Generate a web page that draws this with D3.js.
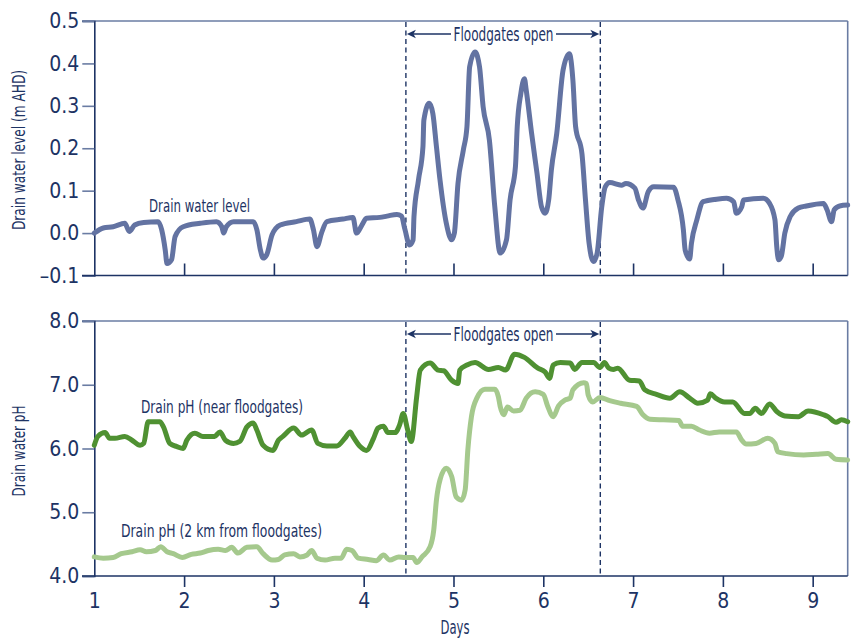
<!DOCTYPE html>
<html>
<head>
<meta charset="utf-8">
<script src="https://cdn.jsdelivr.net/npm/d3@7"></script>
<style>
  html, body { margin: 0; padding: 0; background: #ffffff; }
  svg { display: block; }
  text { font-family: "Liberation Sans Narrow", "DejaVu Sans Condensed", "Roboto Condensed", sans-serif; fill: #1d3364; }
</style>
</head>
<body>
<svg id="chart" width="854" height="640"></svg>
<script>
// ---------------- Data ----------------
const waterDays = [1.00,1.10,1.21,1.34,1.39,1.45,1.55,1.71,1.75,1.79,1.81,1.86,1.90,1.99,2.18,2.36,2.42,2.44,2.47,2.55,2.77,2.81,2.85,2.88,2.92,2.98,3.07,3.25,3.40,3.44,3.48,3.53,3.59,3.77,3.88,3.92,3.98,4.03,4.18,4.26,4.37,4.42,4.46,4.51,4.55,4.56,4.61,4.66,4.67,4.73,4.77,4.81,4.85,4.92,4.98,5.01,5.05,5.11,5.15,5.18,5.24,5.29,5.33,5.40,5.46,5.52,5.59,5.63,5.69,5.71,5.75,5.79,5.81,5.87,5.93,5.98,6.02,6.06,6.09,6.15,6.22,6.29,6.33,6.36,6.43,6.47,6.51,6.56,6.60,6.65,6.69,6.74,6.87,6.92,7.02,7.06,7.11,7.17,7.23,7.45,7.50,7.56,7.58,7.63,7.65,7.71,7.78,7.93,8.04,8.12,8.15,8.21,8.23,8.45,8.52,8.58,8.60,8.62,8.65,8.69,8.75,8.84,8.93,9.12,9.16,9.21,9.24,9.30,9.39];
const waterLevel = [0.000,0.012,0.015,0.023,0.004,0.019,0.025,0.027,0.008,-0.040,-0.072,-0.063,-0.008,0.015,0.023,0.027,0.015,0.000,0.015,0.027,0.027,0.008,-0.040,-0.059,-0.051,-0.004,0.019,0.027,0.033,0.008,-0.032,0.000,0.027,0.033,0.037,0.000,0.019,0.035,0.037,0.040,0.044,0.040,0.008,-0.028,-0.016,0.039,0.125,0.204,0.266,0.306,0.282,0.204,0.125,0.023,-0.016,0.000,0.117,0.196,0.251,0.392,0.427,0.392,0.298,0.219,0.062,-0.047,-0.016,0.078,0.157,0.251,0.329,0.364,0.337,0.235,0.141,0.062,0.047,0.078,0.149,0.235,0.384,0.423,0.360,0.251,0.188,0.078,-0.024,-0.067,-0.047,0.060,0.109,0.119,0.113,0.117,0.106,0.078,0.059,0.098,0.109,0.108,0.078,0.008,-0.040,-0.061,-0.024,0.031,0.074,0.080,0.082,0.074,0.047,0.062,0.078,0.082,0.070,0.031,-0.032,-0.063,-0.055,0.000,0.039,0.059,0.064,0.070,0.055,0.027,0.055,0.064,0.066];

const phNearDays = [1.00,1.04,1.12,1.17,1.23,1.34,1.42,1.51,1.55,1.60,1.73,1.77,1.84,1.92,1.99,2.03,2.12,2.21,2.34,2.40,2.46,2.55,2.62,2.70,2.77,2.81,2.88,2.99,3.05,3.10,3.22,3.31,3.42,3.49,3.59,3.70,3.79,3.85,3.88,3.96,4.03,4.11,4.16,4.22,4.27,4.35,4.40,4.44,4.49,4.53,4.59,4.63,4.74,4.83,4.89,4.98,5.05,5.07,5.15,5.24,5.39,5.50,5.58,5.68,5.79,5.94,6.02,6.07,6.11,6.19,6.30,6.35,6.43,6.56,6.63,6.68,6.73,6.78,6.83,6.96,7.07,7.13,7.26,7.41,7.52,7.63,7.72,7.83,7.86,7.92,8.02,8.11,8.24,8.30,8.36,8.43,8.52,8.60,8.69,8.84,8.95,9.12,9.17,9.26,9.32,9.39];
const phNear = [6.05,6.19,6.25,6.16,6.16,6.19,6.13,6.05,6.08,6.42,6.42,6.34,6.08,6.03,6.00,6.13,6.24,6.19,6.19,6.26,6.13,6.08,6.11,6.34,6.40,6.29,6.05,5.97,6.13,6.19,6.32,6.21,6.29,6.08,6.04,6.04,6.16,6.26,6.19,6.03,5.97,6.16,6.32,6.35,6.25,6.25,6.37,6.55,6.29,6.11,6.81,7.23,7.34,7.23,7.22,7.07,7.02,7.23,7.31,7.35,7.24,7.27,7.23,7.48,7.43,7.26,7.20,7.10,7.31,7.35,7.34,7.24,7.35,7.35,7.27,7.35,7.26,7.24,7.26,7.07,7.06,6.92,6.85,6.79,6.89,6.79,6.71,6.76,6.86,6.79,6.73,6.73,6.55,6.55,6.63,6.55,6.70,6.58,6.51,6.50,6.59,6.53,6.50,6.41,6.45,6.42];

const phFarDays = [1.00,1.10,1.21,1.30,1.42,1.51,1.58,1.68,1.74,1.81,1.88,1.98,2.08,2.18,2.27,2.38,2.46,2.53,2.60,2.70,2.81,2.88,2.98,3.05,3.12,3.22,3.29,3.37,3.42,3.48,3.57,3.68,3.75,3.81,3.87,3.94,4.05,4.14,4.22,4.29,4.39,4.46,4.55,4.59,4.65,4.74,4.78,4.81,4.85,4.92,4.98,5.03,5.09,5.13,5.16,5.20,5.26,5.35,5.46,5.50,5.52,5.56,5.60,5.67,5.74,5.81,5.91,6.00,6.05,6.11,6.17,6.24,6.30,6.33,6.45,6.48,6.50,6.55,6.63,6.74,6.86,7.04,7.11,7.19,7.34,7.51,7.55,7.65,7.74,7.85,7.96,8.15,8.21,8.26,8.37,8.50,8.58,8.61,8.71,8.90,9.04,9.17,9.26,9.39];
const phFar = [4.30,4.28,4.29,4.35,4.38,4.41,4.38,4.40,4.46,4.38,4.35,4.29,4.34,4.36,4.40,4.42,4.40,4.45,4.36,4.45,4.46,4.35,4.25,4.26,4.33,4.35,4.30,4.33,4.40,4.28,4.25,4.28,4.28,4.42,4.40,4.28,4.26,4.24,4.33,4.25,4.30,4.29,4.29,4.21,4.30,4.46,4.72,5.19,5.51,5.69,5.56,5.24,5.19,5.35,5.98,6.50,6.79,6.93,6.93,6.81,6.66,6.53,6.65,6.59,6.60,6.79,6.89,6.85,6.66,6.50,6.67,6.76,6.79,6.92,7.03,7.02,6.84,6.73,6.80,6.75,6.71,6.66,6.53,6.46,6.45,6.44,6.35,6.35,6.29,6.24,6.26,6.26,6.13,6.07,6.08,6.16,6.08,5.95,5.92,5.90,5.91,5.92,5.83,5.82];

const dayTicks = [1, 2, 3, 4, 5, 6, 7, 8, 9];
const levelTicks = [-0.1, 0.0, 0.1, 0.2, 0.3, 0.4, 0.5];
const phTicks = [4, 5, 6, 7, 8];
const gateOpen = 4.47, gateClose = 6.635;

// ---------------- Layout ----------------
const svg = d3.select("#chart");
const navy = "#1d3364", frame = "#6a7ca3";
const x = d3.scaleLinear().domain([1, 9.39]).range([94.3, 847.7]);
const yTop = d3.scaleLinear().domain([-0.1, 0.5]).range([275.5, 21]);
const yBot = d3.scaleLinear().domain([4, 8]).range([576, 321]);

const defs = svg.append("defs");
defs.append("marker").attr("id", "arrowHead").attr("viewBox", "0 0 10 10")
  .attr("refX", 5).attr("refY", 5).attr("markerWidth", 10).attr("markerHeight", 10)
  .attr("markerUnits", "userSpaceOnUse").attr("orient", "auto-start-reverse")
  .append("path").attr("d", "M9,5 L0,0.8 L2.5,5 L0,9.2 Z").attr("fill", navy);

function fmtLevel(d) { const s = d3.format(".1f")(Math.abs(d)); return d < 0 ? "\u2013" + s : s; }

function label(txt, xPos, yPos, size, len, anchor) {
  return svg.append("text").attr("x", xPos).attr("y", yPos).attr("font-size", size)
    .attr("text-anchor", anchor || "start")
    .attr("textLength", len).attr("lengthAdjust", "spacingAndGlyphs").text(txt);
}

function panel(y, ticks, fmt, xTickDir, showXLabels, title, titleY, titleLen) {
  const g = svg.append("g");
  const [yb, yt] = y.range();
  g.append("line").attr("x1", 82).attr("x2", 847.7).attr("y1", yt).attr("y2", yt)
    .attr("stroke", frame).attr("stroke-width", 1.6);
  g.append("line").attr("x1", 847.7).attr("x2", 847.7).attr("y1", yt).attr("y2", yb)
    .attr("stroke", frame).attr("stroke-width", 1.6);
  const ya = d3.axisLeft(y).tickValues(ticks).tickSize(12).tickPadding(3).tickFormat(fmt);
  const yg = g.append("g").attr("transform", `translate(${x.range()[0]},0)`).call(ya);
  yg.select(".domain").attr("stroke", navy).attr("stroke-width", 1.6);
  yg.selectAll(".tick line").attr("stroke", frame).attr("stroke-width", 1.6);
  yg.selectAll(".tick text").attr("font-size", 21).attr("fill", navy)
    .attr("font-family", "'Liberation Sans Narrow', 'DejaVu Sans Condensed', sans-serif");
  const xa = (xTickDir === "in" ? d3.axisTop(x).tickSize(12) : d3.axisBottom(x).tickSize(11))
    .tickValues(dayTicks).tickPadding(6).tickFormat(showXLabels ? d3.format("d") : "");
  const xg = g.append("g").attr("transform", `translate(0,${yb})`).call(xa);
  xg.select(".domain").remove();
  g.append("line").attr("x1", 82).attr("x2", 847.7).attr("y1", yb).attr("y2", yb)
    .attr("stroke", navy).attr("stroke-width", 1.6);
  xg.selectAll(".tick").filter(d => d === 1).select("line").remove();
  xg.selectAll(".tick line").attr("stroke", navy).attr("stroke-width", 1.6);
  xg.selectAll(".tick text").attr("font-size", 21).attr("fill", navy)
    .attr("font-family", "'Liberation Sans Narrow', 'DejaVu Sans Condensed', sans-serif");
  g.append("text").attr("transform", `translate(25,${titleY}) rotate(-90)`)
    .attr("text-anchor", "middle").attr("font-size", 18)
    .attr("textLength", titleLen).attr("lengthAdjust", "spacingAndGlyphs").text(title);
  [gateOpen, gateClose].forEach(d => {
    g.append("line").attr("x1", x(d)).attr("x2", x(d)).attr("y1", yt + 1).attr("y2", yb)
      .attr("stroke", navy).attr("stroke-width", 1.4).attr("stroke-dasharray", "5,3.5");
  });
  const ay = yt + 13;
  g.append("line").attr("x1", x(gateOpen) + 5).attr("x2", 451).attr("y1", ay).attr("y2", ay)
    .attr("stroke", navy).attr("stroke-width", 1.3).attr("marker-start", "url(#arrowHead)");
  g.append("line").attr("x1", 556).attr("x2", x(gateClose) - 5).attr("y1", ay).attr("y2", ay)
    .attr("stroke", navy).attr("stroke-width", 1.3).attr("marker-end", "url(#arrowHead)");
  label("Floodgates open", 503.5, ay + 7, 19, 100, "middle");
}

panel(yTop, levelTicks, fmtLevel, "in", false, "Drain water level (m AHD)", 150, 160);
panel(yBot, phTicks, d3.format(".1f"), "out", true, "Drain water pH", 451, 91);

// ---------------- Lines ----------------
function drawLine(xs, ys, y, color) {
  const pts = xs.map((d, i) => [d, ys[i]]);
  svg.append("path").datum(pts)
    .attr("d", d3.line().x(d => x(d[0])).y(d => y(d[1])).curve(d3.curveMonotoneX))
    .attr("fill", "none").attr("stroke", color).attr("stroke-width", 5)
    .attr("stroke-linejoin", "round").attr("stroke-linecap", "round");
}
drawLine(waterDays, waterLevel, yTop, "#6373a2");
drawLine(phFarDays, phFar, yBot, "#a5c98d");
drawLine(phNearDays, phNear, yBot, "#4f9132");

// ---------------- Labels ----------------
label("Drain water level", 149, 212, 18, 101);
label("Drain pH (near floodgates)", 141, 413, 18, 162);
label("Drain pH (2 km from floodgates)", 121, 537, 18, 201);
label("Days", 455, 634, 19, 29, "middle");
</script>
</body>
</html>
